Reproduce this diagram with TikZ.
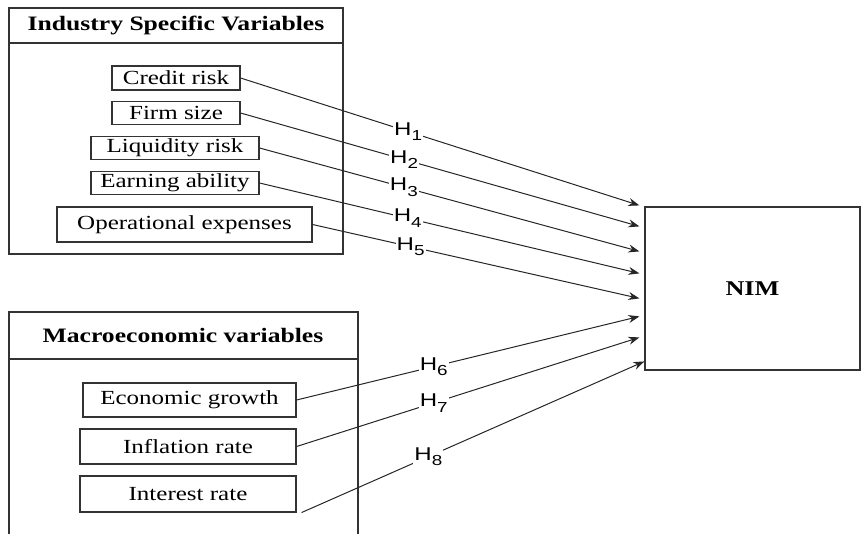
\documentclass[tikz,border=0pt]{standalone}
\usepackage{fontspec}
\setmainfont{Liberation Serif}[FakeStretch=1.25]
\newfontfamily\hypfont{Liberation Sans}[FakeStretch=1.3]
\usetikzlibrary{arrows.meta,calc}
\newcommand{\hyp}[1]{{\hypfont\fontsize{18.5}{18.5}\selectfont H\raisebox{-0.3em}{\fontsize{14.5}{14.5}\selectfont #1}}}
\tikzset{
  frame/.style={draw=black!80, line width=1.2pt},
  varbox/.style={draw=black!80, line width=1.1pt, inner sep=0pt,
    font=\fontsize{20}{20}\selectfont},
  grouptitle/.style={font=\bfseries\fontsize{20.5}{20.5}\selectfont, inner sep=0pt},
  link/.style={draw=black!85, line width=1pt, -{Stealth[length=11pt,width=8pt]}},
  hlabel/.style={fill=white, inner sep=1pt},
}
\begin{document}
\begin{tikzpicture}[x=1pt, y=-1pt]
\useasboundingbox (0,0) rectangle (861,533);
\clip (0,0) rectangle (861,533);

% industry specific group
\node[frame, minimum width=334pt, minimum height=246pt] (ind) at (176,131) {};
\coordinate (indL) at (9,43);
\coordinate (indR) at (343,43);
\draw[frame] (indL) -- (indR);
\node[grouptitle] (indT) at (176,25) {Industry Specific Variables};

\node[varbox, minimum width=128pt, minimum height=24pt] (cr) at (176,78) {Credit risk};
\node[varbox, minimum width=128pt, minimum height=23pt] (fs) at (176,113) {Firm size};
\node[varbox, minimum width=168pt, minimum height=23pt] (lr) at (175,148) {Liquidity risk};
\node[varbox, minimum width=168pt, minimum height=23pt] (ea) at (175,183) {Earning ability};
\node[varbox, minimum width=255pt, minimum height=35pt] (oe) at (184.5,224.5) {Operational expenses};

% macroeconomic group (runs off the lower edge)
\node[frame, minimum width=349pt, minimum height=260pt] (mac) at (183.5,442) {};
\coordinate (macL) at (9,359);
\coordinate (macR) at (358,359);
\draw[frame] (macL) -- (macR);
\node[grouptitle] (macT) at (183,335) {Macroeconomic variables};

\node[varbox, minimum width=213pt, minimum height=34pt] (eg) at (189.5,400) {Economic growth};
\node[varbox, minimum width=216pt, minimum height=35pt] (inf) at (188,446.5) {Inflation rate};
\node[varbox, minimum width=216pt, minimum height=36pt] (ir) at (188,494) {Interest rate};

% dependent variable
\node[frame, minimum width=215pt, minimum height=163pt, inner sep=0pt,
  font=\bfseries\fontsize{21}{21}\selectfont] (nim) at (752.5,288.5) {NIM};

% arrow end points along the left side of NIM
\coordinate (t1) at ($(nim.north west)+(-5,-1)$);
\coordinate (t2) at ($(nim.north west)+(-5,20)$);
\coordinate (t3) at ($(nim.north west)+(-5,45)$);
\coordinate (t4) at ($(nim.north west)+(-5,67)$);
\coordinate (t5) at ($(nim.north west)+(-5,92)$);
\coordinate (t6) at ($(nim.north west)+(-5,110)$);
\coordinate (t7) at ($(nim.north west)+(-5,131)$);
\coordinate (t8) at ($(nim.north west)+(0,155)$);
\coordinate (s8) at ($(ir.south east)+(5,0)$);

% hypotheses
\draw[link] (cr.east) -- node[hlabel, pos=0.42] (h1) {\hyp{1}} (t1);
\draw[link] (fs.east) -- node[hlabel, pos=0.41] (h2) {\hyp{2}} (t2);
\draw[link] (lr.east) -- node[hlabel, pos=0.38] (h3) {\hyp{3}} (t3);
\draw[link] (ea.east) -- node[hlabel, pos=0.39] (h4) {\hyp{4}} (t4);
\draw[link] (oe.east) -- node[hlabel, pos=0.30] (h5) {\hyp{5}} (t5);
\draw[link] (eg.east) -- node[hlabel, pos=0.40] (h6) {\hyp{6}} (t6);
\draw[link] (inf.east) -- node[hlabel, pos=0.40] (h7) {\hyp{7}} (t7);
\draw[link] (s8) -- node[hlabel, pos=0.37] (h8) {\hyp{8}} (t8);
\end{tikzpicture}
\end{document}
